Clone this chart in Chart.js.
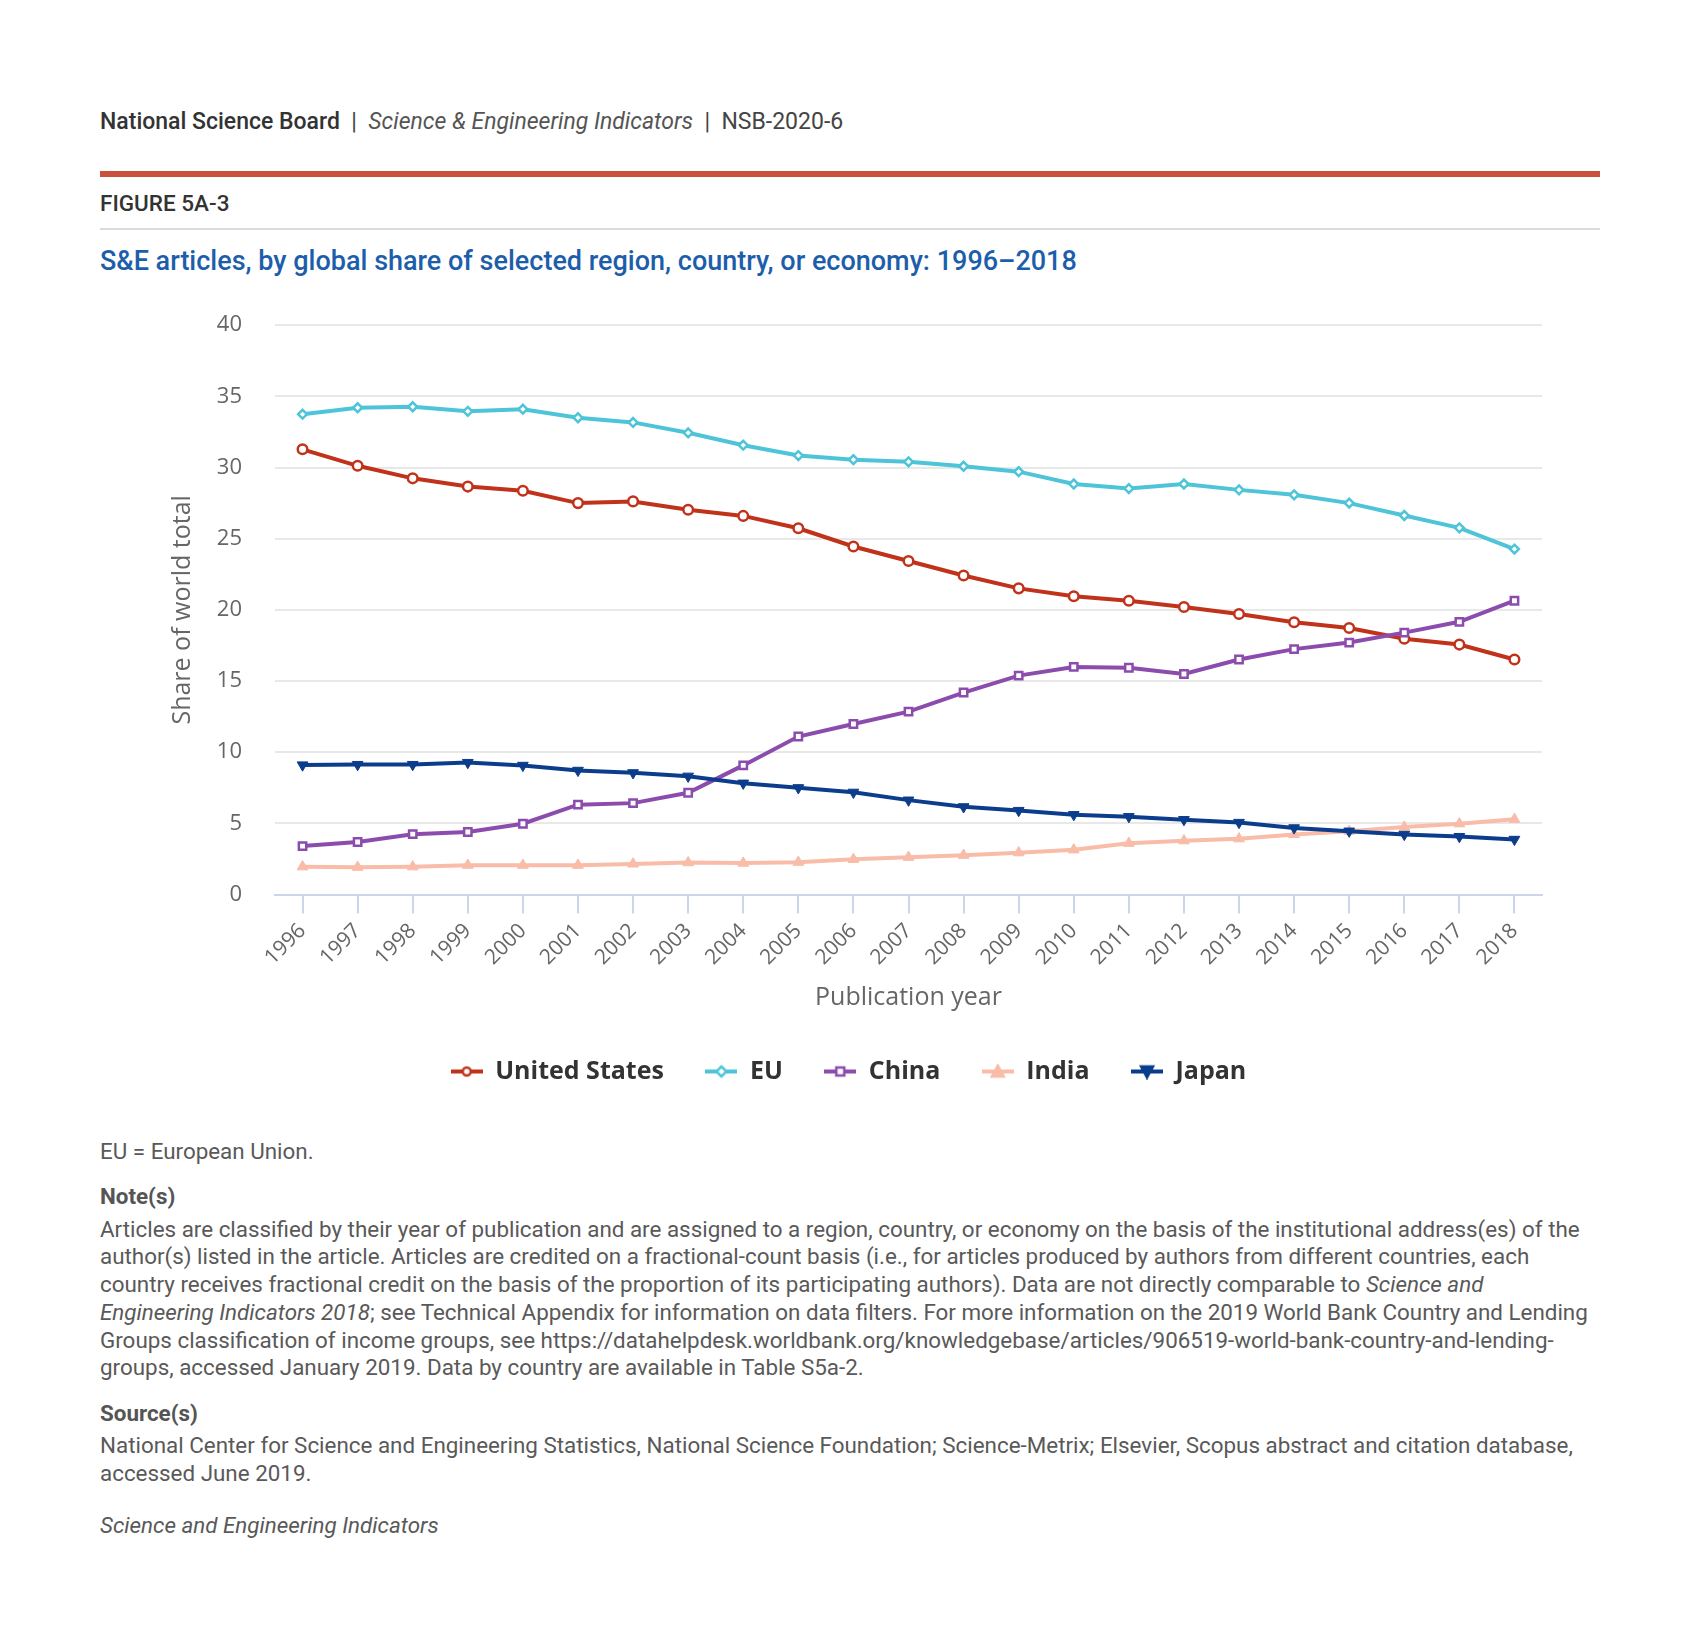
<!DOCTYPE html>
<html>
<head>
<meta charset="utf-8">
<script src="https://cdn.jsdelivr.net/npm/chart.js@4.4.1/dist/chart.umd.min.js"></script>
<style>
  html, body { margin: 0; padding: 0; background: #ffffff; }
  body { width: 1700px; height: 1645px; position: relative; overflow: hidden; font-family: Roboto, "Noto Sans", sans-serif; }
  .t { position: absolute; left: 100px; white-space: nowrap; line-height: 28px; }
  #hdr { top: 108px; font-size: 23px; color: #444; }
  #hdr b { color: #333; font-weight: 500; }
  #hdr i { color: #555; }
  #bar { position: absolute; left: 100px; top: 171px; width: 1500px; height: 6px; background: #c9503a; }
  #fig { top: 189px; font-size: 22.5px; color: #333; font-weight: 500; }
  #rule { position: absolute; left: 100px; top: 228px; width: 1500px; height: 2px; background: #dadada; }
  #title { top: 247px; font-size: 27px; color: #1d5eab; font-weight: 500; }
  .n { font-size: 22.4px; color: #595959; }
  .nb { font-size: 22.4px; color: #555; font-weight: 700; }
  #wrap { position: absolute; left: 150px; top: 279px; width: 1404px; height: 815px; }
</style>
</head>
<body>
<div id="hdr" class="t"><b>National Science Board</b>&nbsp; | &nbsp;<i>Science &amp; Engineering Indicators</i>&nbsp; | &nbsp;NSB-2020-6</div>
<div id="bar"></div>
<div id="fig" class="t">FIGURE 5A-3</div>
<div id="rule"></div>
<div id="title" class="t">S&amp;E articles, by global share of selected region, country, or economy: 1996–2018</div>
<div id="wrap"><canvas id="c"></canvas></div>

<div class="t n" style="top:1137px">EU = European Union.</div>
<div class="t nb" style="top:1182px">Note(s)</div>
<div class="t n" style="top:1215px">Articles are classified by their year of publication and are assigned to a region, country, or economy on the basis of the institutional address(es) of the</div>
<div class="t n" style="top:1242px">author(s) listed in the article. Articles are credited on a fractional-count basis (i.e., for articles produced by authors from different countries, each</div>
<div class="t n" style="top:1270px">country receives fractional credit on the basis of the proportion of its participating authors). Data are not directly comparable to <i>Science and</i></div>
<div class="t n" style="top:1298px"><i>Engineering Indicators 2018</i>; see Technical Appendix for information on data filters. For more information on the 2019 World Bank Country and Lending</div>
<div class="t n" style="top:1326px">Groups classification of income groups, see https://datahelpdesk.worldbank.org/knowledgebase/articles/906519-world-bank-country-and-lending-</div>
<div class="t n" style="top:1353px">groups, accessed January 2019. Data by country are available in Table S5a-2.</div>
<div class="t nb" style="top:1399px">Source(s)</div>
<div class="t n" style="top:1431px">National Center for Science and Engineering Statistics, National Science Foundation; Science-Metrix; Elsevier, Scopus abstract and citation database,</div>
<div class="t n" style="top:1459px">accessed June 2019.</div>
<div class="t n" style="top:1511px"><i>Science and Engineering Indicators</i></div>

<script>
const years = ["1996","1997","1998","1999","2000","2001","2002","2003","2004","2005","2006","2007","2008","2009","2010","2011","2012","2013","2014","2015","2016","2017","2018"];
const seriesNames = ["United States", "EU", "China", "India", "Japan"];
const unitedStates = [31.28, 30.12, 29.24, 28.66, 28.37, 27.5, 27.62, 27.03, 26.6, 25.73, 24.45, 23.43, 22.41, 21.51, 20.96, 20.64, 20.2, 19.71, 19.13, 18.72, 17.97, 17.56, 16.51];
const eu = [33.75, 34.2, 34.27, 33.95, 34.1, 33.5, 33.17, 32.44, 31.57, 30.84, 30.55, 30.4, 30.09, 29.71, 28.84, 28.52, 28.84, 28.43, 28.08, 27.5, 26.63, 25.76, 24.27];
const china = [3.4, 3.69, 4.24, 4.39, 4.97, 6.31, 6.42, 7.15, 9.07, 11.1, 11.98, 12.85, 14.19, 15.38, 15.99, 15.93, 15.49, 16.51, 17.24, 17.7, 18.4, 19.16, 20.64];
const india = [1.95, 1.92, 1.95, 2.06, 2.06, 2.06, 2.15, 2.24, 2.21, 2.27, 2.47, 2.62, 2.76, 2.94, 3.14, 3.6, 3.78, 3.92, 4.22, 4.45, 4.74, 4.97, 5.29];
const japan = [9.1, 9.13, 9.13, 9.27, 9.07, 8.72, 8.55, 8.31, 7.82, 7.5, 7.18, 6.63, 6.16, 5.9, 5.61, 5.47, 5.26, 5.06, 4.68, 4.45, 4.22, 4.07, 3.87];
const yTicks = [0, 5, 10, 15, 20, 25, 30, 35, 40];

const colors = ["#c0321a", "#4ec4d8", "#8b4cad", "#f8bca8", "#0b3d8c"];
const styles = ["circle", "rectRot", "rect", "triangle", "triangle"];
const rotations = [0, 0, 0, 0, 180];
const hollow = [true, true, true, false, false];
const radii = [4.8, 4.4, 5.2, 6.2, 6.2];
const values = [unitedStates, eu, china, india, japan];

function legendIcon(i) {
  const cv = document.createElement('canvas');
  cv.width = 32; cv.height = 16;
  const g = cv.getContext('2d');
  g.strokeStyle = colors[i];
  g.lineWidth = 4;
  g.beginPath(); g.moveTo(0, 8); g.lineTo(32, 8); g.stroke();
  g.save();
  g.translate(16, 8);
  g.fillStyle = hollow[i] ? '#ffffff' : colors[i];
  g.lineWidth = 2.5;
  const r = 5;
  g.beginPath();
  const st = styles[i];
  if (st === 'circle') { g.arc(0, 0, r - 1, 0, Math.PI * 2); }
  else if (st === 'rect') { g.rect(-r + 1, -r + 1, 2 * r - 2, 2 * r - 2); }
  else if (st === 'rectRot') { g.moveTo(0, -r); g.lineTo(r, 0); g.lineTo(0, r); g.lineTo(-r, 0); g.closePath(); }
  else if (st === 'triangle') {
    const s = rotations[i] === 180 ? -1 : 1;
    g.moveTo(0, -6 * s); g.lineTo(6, 5 * s); g.lineTo(-6, 5 * s); g.closePath();
  }
  g.fill(); g.stroke();
  g.restore();
  return cv;
}

const datasets = seriesNames.map((name, i) => ({
  label: name,
  data: values[i],
  borderColor: colors[i],
  backgroundColor: colors[i],
  borderWidth: 4,
  tension: 0,
  pointStyle: styles[i],
  pointRotation: rotations[i],
  pointRadius: radii[i],
  pointHoverRadius: radii[i],
  pointBorderWidth: hollow[i] ? 2.5 : 1,
  pointBackgroundColor: hollow[i] ? '#ffffff' : colors[i],
  pointBorderColor: colors[i],
  order: 4 - i
}));

const icons = seriesNames.map((_, i) => legendIcon(i));

new Chart(document.getElementById('c'), {
  type: 'line',
  data: { labels: years, datasets },
  options: {
    responsive: true,
    maintainAspectRatio: false,
    animation: false,
    events: [],
    layout: { padding: { top: 35, right: 12, bottom: 0, left: 5 } },
    plugins: {
      tooltip: { enabled: false },
      legend: {
        position: 'bottom',
        labels: {
          usePointStyle: true,
          pointStyleWidth: 32,
          padding: 41.5,
          color: '#333333',
          font: { family: '"Open Sans"', size: 25, weight: 'bold' },
          generateLabels: (chart) => chart.data.datasets.map((ds, i) => ({
            text: ds.label,
            pointStyle: icons[i],
            fillStyle: colors[i],
            strokeStyle: colors[i],
            lineWidth: 0,
            hidden: false,
            datasetIndex: i,
            fontColor: '#333333'
          }))
        }
      }
    },
    scales: {
      x: {
        offset: true,
        grid: { drawOnChartArea: false, drawTicks: true, tickLength: 19, color: '#ccd6eb', lineWidth: 2 },
        border: { display: true, color: '#ccd6eb', width: 2 },
        ticks: {
          autoSkip: false, maxRotation: 45, minRotation: 45, padding: 5,
          color: '#666666', font: { family: '"Open Sans"', size: 21 }
        },
        title: {
          display: true, text: 'Publication year', color: '#666666',
          font: { family: '"Open Sans"', size: 25 }, padding: { top: 0, bottom: 5 }
        },
        afterFit: (s) => { s.height = 123; }
      },
      y: {
        min: 0, max: 40,
        afterBuildTicks: (s) => { s.ticks = yTicks.map(v => ({ value: v })); },
        grid: { drawTicks: false, color: '#e8e8e8', lineWidth: 2 },
        border: { display: false },
        ticks: { padding: 33, color: '#666666', font: { family: '"Open Sans"', size: 22 } },
        title: {
          display: true, text: 'Share of world total', color: '#666666',
          font: { family: '"Open Sans"', size: 25 }, padding: { top: 13, bottom: 0 }
        },
        afterFit: (s) => { s.width = 120; }
      }
    }
  }
});
</script>
</body>
</html>
